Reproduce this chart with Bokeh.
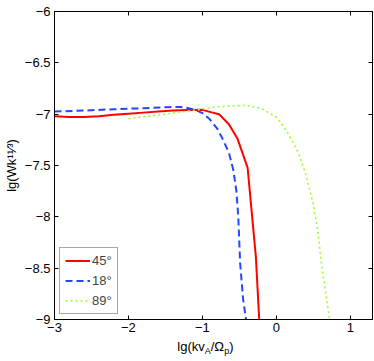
import math
from bokeh.plotting import figure
from bokeh.layouts import column
from bokeh.models import (Range1d, FixedTicker, LinearAxis, Legend, LegendItem, Label)
from bokeh.embed import file_html
from bokeh.resources import INLINE

# ---- data ----
red_x = [-3.0, -2.8, -2.6, -2.4, -2.2, -2.0, -1.8, -1.6, -1.4, -1.2, -1.0,
         -0.887, -0.775, -0.64, -0.525, -0.389, -0.277, -0.232, -0.225]
red_y = [-7.02, -7.028, -7.028, -7.02, -7.006, -6.995, -6.985, -6.975, -6.965, -6.96, -6.958,
         -6.98, -7.0, -7.10, -7.24, -7.52, -8.39, -9.0, -9.1]

blue_x = [-3.0, -2.6, -2.2, -1.8, -1.5, -1.3, -1.2, -1.1, -1.0, -0.9, -0.8,
          -0.72, -0.64, -0.58, -0.54, -0.515, -0.49, -0.45, -0.41, -0.405]
blue_y = [-6.975, -6.965, -6.952, -6.942, -6.932, -6.93, -6.94, -6.958, -6.99, -7.05, -7.14,
          -7.25, -7.38, -7.55, -7.75, -8.0, -8.45, -8.8, -9.0, -9.1]

green_x = [-2.0, -1.8, -1.6, -1.4, -1.2, -1.0, -0.8, -0.6, -0.4, -0.2, 0.0, 0.1,
           0.2, 0.3, 0.4, 0.5, 0.56, 0.6, 0.65, 0.7, 0.72, 0.73]
green_y = [-7.045, -7.025, -7.008, -6.99, -6.97, -6.95, -6.93, -6.918, -6.915, -6.945, -7.03, -7.12,
           -7.24, -7.38, -7.59, -7.88, -8.13, -8.4, -8.66, -8.9, -9.0, -9.1]

series_names = ["45°", "18°", "89°"]

x_ticks = [-3, -2, -1, 0, 1]
x_tick_labels = ["\u22123", "\u22122", "\u22121", "0", "1"]
y_ticks = [-9, -8.5, -8, -7.5, -7, -6.5, -6]
y_tick_labels = ["\u22129", "\u22128.5", "\u22128", "\u22127.5", "\u22127", "\u22126.5", "\u22126"]

y_title = "lg(Wk\u00b9\u00b9\u2044\u00b3)"            # lg(Wk^{11/3})
x_title_parts = ["lg(kv", "A", "/\u03a9", "p", ")"]    # lg(kv_A/Ω_p)
x_title_is_sub = [False, True, False, True, False]

FONT = "Liberation Sans"
FS = 13
SFS = 9
WIDTH, HEIGHT = 374, 361
FL, FR, FT, FB = 54, 372, 11, 319   # frame edges in pixels

p = figure(width=WIDTH, height=HEIGHT, output_backend="svg", toolbar_location=None,
           x_range=Range1d(-3, 1.3), y_range=Range1d(-9, -6),
           min_border_left=FL, min_border_right=WIDTH - FR, min_border_top=FT,
           min_border_bottom=HEIGHT - FB)
p.background_fill_color = "white"
p.border_fill_color = "white"
p.outline_line_color = "black"
p.outline_line_width = 1
p.xgrid.visible = False
p.ygrid.visible = False

for ax, ticks, labels in ((p.xaxis[0], x_ticks, x_tick_labels), (p.yaxis[0], y_ticks, y_tick_labels)):
    ax.ticker = FixedTicker(ticks=ticks)
    ax.major_label_overrides = {t: l for t, l in zip(ticks, labels)}
    ax.major_tick_in = 4
    ax.major_tick_out = 0
    ax.minor_tick_line_color = None
    ax.major_label_standoff = 4
    ax.major_label_text_font = FONT
    ax.major_label_text_font_size = f"{FS}px"
    ax.major_label_text_color = "black"
    ax.axis_line_color = "black"
    ax.major_tick_line_color = "black"
    ax.axis_label_text_font = FONT
    ax.axis_label_text_font_size = f"{FS}px"
    ax.axis_label_text_font_style = "normal"
    ax.axis_label_text_color = "black"
p.xaxis[0].major_label_standoff = 3
p.yaxis[0].axis_label = y_title
p.yaxis[0].axis_label_standoff = 3
p.yaxis[0].axis_label_text_align = "right"

for side, ticks in (("right", y_ticks), ("above", x_ticks)):
    ax = LinearAxis(ticker=FixedTicker(ticks=ticks), major_tick_in=4, major_tick_out=0,
                    minor_tick_line_color=None, major_label_text_font_size="1px",
                    major_label_text_color=None,
                    major_label_standoff=0, axis_line_color="black",
                    major_tick_line_color="black")
    p.add_layout(ax, side)

r1 = p.line(red_x, red_y, line_color="#ff0000", line_width=2)
r2 = p.line(blue_x, blue_y, line_color="#2347ff", line_width=2, line_dash="7 4")
r3 = p.line(green_x, green_y, line_color="#99ff33", line_width=1.6, line_dash="2 3")

legend = Legend(items=[LegendItem(label=series_names[0], renderers=[r1]),
                       LegendItem(label=series_names[1], renderers=[r2]),
                       LegendItem(label=series_names[2], renderers=[r3])],
                location="bottom_left", margin=5, padding=5, spacing=5,
                glyph_width=25, glyph_height=15, label_height=15, label_standoff=2,
                label_text_font=FONT, label_text_font_size=f"{FS}px",
                border_line_color="#505050", border_line_width=1,
                background_fill_color="white", background_fill_alpha=1)
p.add_layout(legend, "center")

# ---- transparent overlay for the x title with subscripts ----
# (in a column its frame is aligned with the main frame horizontally; ranges give pixel coords)
q = figure(width=WIDTH, height=HEIGHT, output_backend="svg", toolbar_location=None,
           x_range=Range1d(FL, FR), y_range=Range1d(HEIGHT, 0), min_border=0,
           x_axis_location=None, y_axis_location=None)
q.outline_line_color = None
q.background_fill_alpha = 0
q.border_fill_alpha = 0
q.grid.visible = False
q.margin = (-HEIGHT, 0, 0, 0)

# approximate Liberation Sans advance widths (em)
W = {"l": 0.222, "g": 0.556, "(": 0.333, ")": 0.333, "k": 0.5, "v": 0.5, "A": 0.667,
     "/": 0.278, "\u03a9": 0.768, "p": 0.556}

def tw(s, fs):
    return sum(W.get(c, 0.556) for c in s) * fs

sizes = [SFS if sub else FS for sub in x_title_is_sub]
cx, base = 205, 346
pos = cx - sum(tw(s, f) for s, f in zip(x_title_parts, sizes)) / 2
for s, f, sub in zip(x_title_parts, sizes, x_title_is_sub):
    q.add_layout(Label(x=pos, y=base + (4.5 if sub else 0), text=s, text_font=FONT,
                       text_font_size=f"{f}px", text_align="left",
                       text_baseline="alphabetic", text_color="black"))
    pos += tw(s, f)

open("out.html", "w").write(file_html(column(p, q), INLINE))
